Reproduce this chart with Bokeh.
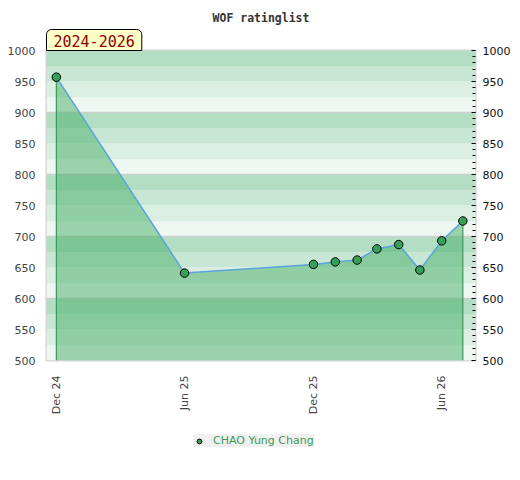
import pandas as pd
import math
from bokeh.plotting import figure
from bokeh.layouts import column
from bokeh.models import (Range1d, LinearAxis, FixedTicker, SingleIntervalTicker,
                          DatetimeTickFormatter, Title, Legend, LegendItem)
from bokeh.embed import file_html
from bokeh.resources import INLINE

title_text = "WOF ratinglist"
period_label = "2024-2026"
player = "CHAO Yung Chang"
dates = ["2024-12-01", "2025-06-01", "2025-12-01", "2026-01-01", "2026-02-01",
         "2026-03-01", "2026-04-01", "2026-05-01", "2026-06-01", "2026-07-01"]
ratings = [957, 641, 655, 659, 662, 680, 687, 646, 693, 725]
x_tick_dates = ["2024-12-01", "2025-06-01", "2025-12-01", "2026-06-01"]
y_min, y_max = 500, 1000
y_ticks = list(range(500, 1001, 50))
band_colors = ["#b3dec4", "#c8e6d4", "#dbeee2", "#eef7f1"]

marker_style = dict(size=8.5, fill_color="#35a05a", line_color="black", line_width=1)

x = list(pd.to_datetime(dates))
x_start = pd.Timestamp("2024-11-17")
x_end = pd.Timestamp("2026-07-19")
x_range = Range1d(x_start, x_end)

p = figure(x_axis_type="datetime", width=520, frame_width=429, frame_height=310,
           title=None,
           x_range=x_range, y_range=Range1d(y_min, y_max),
           output_backend="svg", toolbar_location=None,
           min_border_left=46, min_border_right=45, min_border_top=50, min_border_bottom=0,
           background_fill_color="white", border_fill_color="white")

p.outline_line_color = "#d4d4d4"
p.outline_line_width = 2
p.xgrid.visible = False
p.ygrid.visible = False

# background bands
band_bottoms = list(range(y_min, y_max, 25))
band_tops = [b + 25 for b in band_bottoms]
band_fill = [band_colors[((y_max - t) // 25) % 4] for t in band_tops]
p.hstrip(y0=band_bottoms, y1=band_tops, fill_color=band_fill, line_color=None)
p.hspan(y=[600, 700, 800, 900], line_color="#cfcfcf", line_width=1.5)

# area
p.varea(x=x, y1=y_min, y2=ratings, fill_color="#46ad65", fill_alpha=0.5)
p.segment(x0=[x[0], x[-1]], y0=[y_min, y_min], x1=[x[0], x[-1]],
          y1=[ratings[0], ratings[-1]], line_color="#3a9a5a", line_width=1.2)
p.line(x=x, y=ratings, line_color="#5ba3dc", line_width=1.5)
sc = p.scatter(x=x, y=ratings, **marker_style)

# period label box (closest to the frame) and title
lab = Title(text=period_label, align="left", offset=0, standoff=0,
            text_font="DejaVu Sans Mono", text_font_size="15px", text_font_style="normal",
            text_color="#8b0000", background_fill_color="#ffffc8",
            border_line_color="black", border_line_width=1,
            padding=dict(left=7, right=7, top=5, bottom=4),
            border_radius=dict(top_left=5, top_right=5, bottom_right=0, bottom_left=0))
p.add_layout(lab, "above")
main_title = Title(text=title_text, align="center", standoff=6,
                   text_font="DejaVu Sans Mono", text_font_size="11.5px",
                   text_font_style="bold", text_color="#333333")
p.add_layout(main_title, "above")

# x axis
xa = p.xaxis[0]
xa.ticker = FixedTicker(ticks=[pd.Timestamp(t).timestamp() * 1000 for t in x_tick_dates])
xa.formatter = DatetimeTickFormatter(months="%b %y", days="%b %y", years="%b %y")
xa.major_label_orientation = math.pi / 2
xa.axis_line_color = None
xa.major_tick_line_color = None
xa.minor_tick_line_color = None
xa.major_tick_out = 0
xa.major_label_standoff = 15
xa.major_label_text_font = "DejaVu Sans"
xa.major_label_text_font_size = "11px"
xa.major_label_text_color = "#444444"

# left axis
ya = p.yaxis[0]
ya.ticker = FixedTicker(ticks=y_ticks)
ya.axis_line_color = None
ya.major_tick_line_color = None
ya.minor_tick_line_color = None
ya.major_tick_out = 0
ya.major_label_standoff = 11
ya.major_label_text_font = "DejaVu Sans"
ya.major_label_text_font_size = "11px"
ya.major_label_text_color = "#444444"

# right axis
ra = LinearAxis(ticker=SingleIntervalTicker(interval=50, num_minor_ticks=5))
ra.axis_line_color = None
ra.major_tick_in = 4
ra.major_tick_out = 0
ra.minor_tick_in = 3
ra.minor_tick_out = 0
ra.major_tick_line_color = "black"
ra.minor_tick_line_color = "black"
ra.major_label_standoff = 7
ra.major_label_text_font = "DejaVu Sans"
ra.major_label_text_font_size = "11px"
ra.major_label_text_color = "#111111"
p.add_layout(ra, "right")

# legend strip below the chart (series drawn off-range so only the legend shows)
p2 = figure(width=520, height=50, output_backend="svg", toolbar_location=None,
            x_axis_type="datetime", x_range=x_range, y_range=Range1d(0, 1), min_border=0,
            background_fill_color="white", border_fill_color="white")
p2.axis.visible = False
p2.grid.visible = False
p2.outline_line_color = None
sc2 = p2.scatter(x=x, y=ratings, **marker_style)
legend = Legend(items=[LegendItem(label=player, renderers=[sc2])], location=(147, 20),
                orientation="horizontal", background_fill_color="#f0f0f0",
                background_fill_alpha=1, border_line_color=None,
                label_text_color="#3a9a5a", label_text_font="DejaVu Sans",
                label_text_font_size="11px", padding=5, glyph_width=12, glyph_height=12,
                label_standoff=8, margin=0)
p2.add_layout(legend, "center")

layout = column(p, p2, spacing=0)
open("out.html", "w").write(file_html(layout, INLINE))
